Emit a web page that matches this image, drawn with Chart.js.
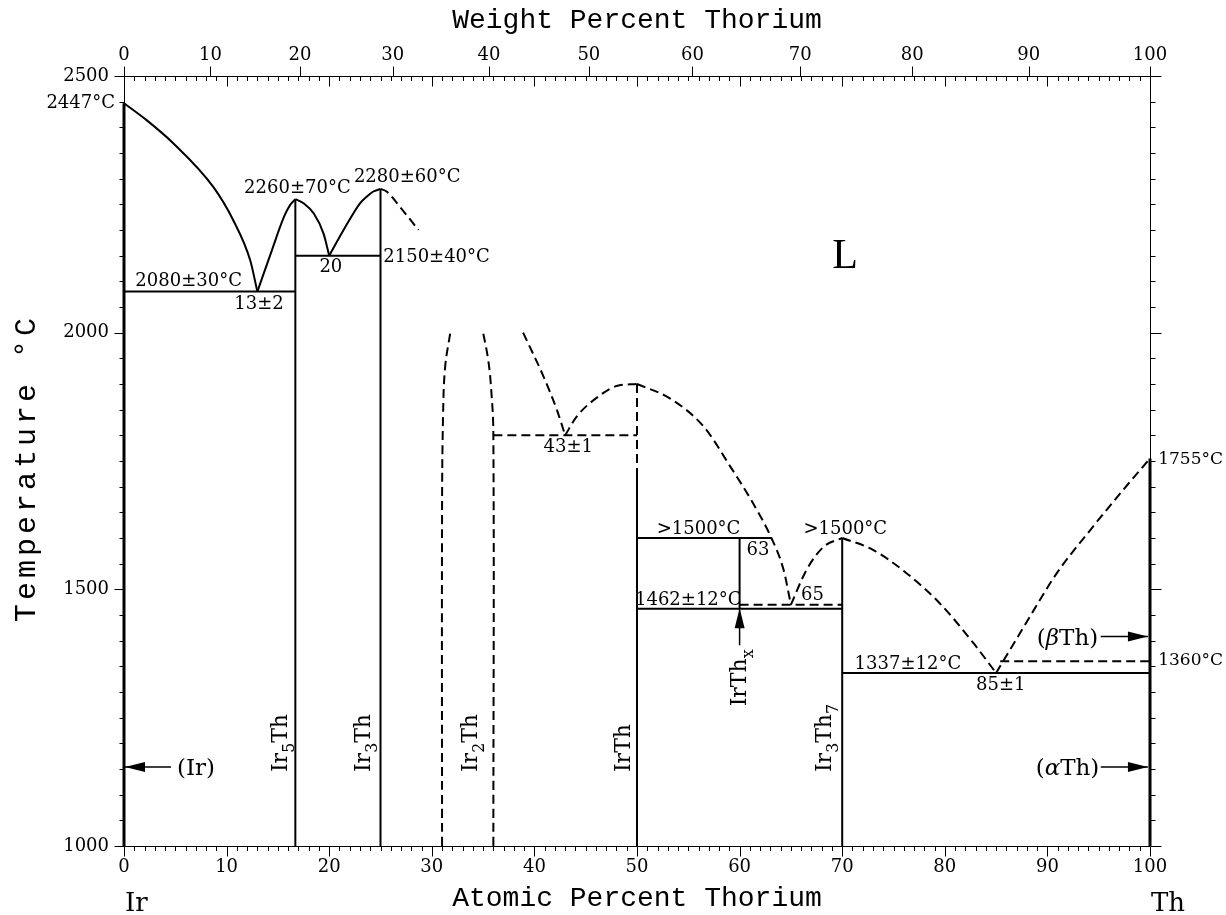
<!DOCTYPE html>
<html>
<head>
<meta charset="utf-8">
<script src="https://cdn.jsdelivr.net/npm/chart.js@4.4.1/dist/chart.umd.min.js"></script>
<style>
html,body{margin:0;padding:0;background:#fff}
canvas{display:block}
</style>
</head>
<body>
<canvas id="phase" width="1226" height="915"></canvas>
<script>
// tick labels
const atomicTicks = [0,10,20,30,40,50,60,70,80,90,100];
const weightTicks = [0,10,20,30,40,50,60,70,80,90,100];
const tempTicks = [1000,1500,2000,2500];

// phase boundaries, [at.% Th, deg C]
const irLiquidus  = [[0,2447],[2.2,2414],[4.8,2369],[8.7,2284],[10.65,2219],[12.3,2141],[13,2080]];
const ir5ThLeft   = [[13,2080],[14.3,2154],[15.6,2226],[16.2,2249],[16.7,2260]];
const ir5ThRight  = [[16.7,2260],[17.5,2252],[18.5,2232],[19.45,2193],[20,2150]];
const ir3ThLeft   = [[20,2150],[21.4,2200],[23,2252],[23.65,2265],[24.3,2275],[25,2280]];
const ir3ThRight  = [[25,2280],[25.6,2275],[26.9,2245],[28.7,2200]];
const ir2ThLeft   = [[31,1000],[31,1650],[31.1,1840],[31.3,1933],[31.8,2000]];
const ir2ThRight  = [[36,1000],[36,1800],[35.75,1900],[35.45,1953],[35,2000]];
const liq43Left   = [[38.9,2000],[40.9,1914],[42.2,1849],[43,1800]];
const irThLeft    = [[43,1800],[44.1,1836],[46.4,1878],[48,1896],[50,1900]];
const irThRight   = [[50,1900],[53.2,1872],[56.5,1817],[59.1,1739],[61.3,1668],[63.1,1600],[64.3,1537],[65,1470]];
const ir3Th7Left  = [[65,1470],[66.5,1537],[68.2,1583],[70,1600]];
const ir3Th7Right = [[70,1600],[73,1577],[76.3,1531],[79.5,1473],[82.8,1395],[85,1337]];
const thLiquidus  = [[85,1337],[87.7,1427],[90.9,1531],[94.2,1616],[97.4,1694],[100,1755]];

// invariant lines
const eut2080 = [[0,2080],[16.7,2080]];
const eut2150 = [[16.7,2150],[25,2150]];
const eut1800 = [[36,1800],[50,1800]];
const per1600 = [[50,1600],[63.1,1600]];
const per1462 = [[50,1462],[70,1462]];
const eut1470 = [[60,1470],[70,1470]];
const eut1337 = [[70,1337],[100,1337]];
const tr1360  = [[85.4,1360],[100,1360]];

// compound / element lines
const irEdge    = [[0,1000],[0,2447]];
const thEdge    = [[100,1000],[100,1755]];
const ir5ThLine = [[16.7,1000],[16.7,2260]];
const ir3ThLine = [[25,1000],[25,2280]];
const irThSolid = [[50,1000],[50,1719]];
const irThDash  = [[50,1719],[50,1900]];
const irThxLine = [[60,1462],[60,1600]];
const ir3Th7Line= [[70,1000],[70,1600]];

const IR_MASS = 192.22, TH_MASS = 232.04;
const wtToAt = w => { const a = w / TH_MASS, b = (100 - w) / IR_MASS; return 100 * a / (a + b); };

function seg(pts, extra) {
  return Object.assign({
    data: pts.map(p => ({x: p[0], y: p[1]})),
    showLine: true, pointRadius: 0, borderColor: '#000', backgroundColor: '#000',
    borderWidth: 2, tension: 0, clip: 8
  }, extra || {});
}
const smooth = {tension: 0.4, cubicInterpolationMode: 'monotone'};
const dashed = {borderDash: [9, 5]};
const dashSmooth = {tension: 0.4, cubicInterpolationMode: 'monotone', borderDash: [9, 5]};
const dashBend = {tension: 0.4, borderDash: [9, 5]};

const datasets = [
  seg(irLiquidus, smooth), seg(ir5ThLeft, smooth), seg(ir5ThRight, smooth), seg(ir3ThLeft, smooth),
  seg(ir3ThRight, dashSmooth), seg(ir2ThLeft, dashBend), seg(ir2ThRight, dashBend),
  seg(liq43Left, dashSmooth), seg(irThLeft, dashSmooth), seg(irThRight, dashSmooth),
  seg(ir3Th7Left, dashSmooth), seg(ir3Th7Right, dashSmooth), seg(thLiquidus, dashSmooth),
  seg(eut2080), seg(eut2150), seg(eut1800, dashed), seg(per1600), seg(per1462),
  seg(eut1470, dashed), seg(eut1337), seg(tr1360, dashed),
  seg(irEdge, {borderWidth: 3}), seg(thEdge, {borderWidth: 3}),
  seg(ir5ThLine), seg(ir3ThLine), seg(irThSolid), seg(irThDash, dashed),
  seg(irThxLine), seg(ir3Th7Line)
];

// text on the diagram (x in at.%, y in deg C at text centre)
const notes = [
  {t:'2447°C', x:-0.88, y:2450, align:'right'},
  {t:'2260±70°C', x:16.9, y:2284},
  {t:'2280±60°C', x:27.6, y:2306},
  {t:'20', x:20.16, y:2130},
  {t:'2150±40°C', x:25.27, y:2151, align:'left'},
  {t:'2080±30°C', x:6.3, y:2103},
  {t:'13±2', x:13.16, y:2058},
  {t:'43±1', x:43.3, y:1780},
  {t:'>1500°C', x:56.0, y:1620},
  {t:'63', x:61.8, y:1580},
  {t:'>1500°C', x:70.3, y:1620},
  {t:'65', x:67.1, y:1491},
  {t:'1462±12°C', x:55.0, y:1483},
  {t:'1337±12°C', x:76.4, y:1357},
  {t:'85±1', x:85.46, y:1316},
  {t:'1755°C', x:100.8, y:1756, align:'left', size:17},
  {t:'1360°C', x:100.8, y:1364, align:'left', size:17},
  {t:'(~βTh)', x:91.96, y:1408, size:23},
  {t:'(~αTh)', x:91.96, y:1154, size:23},
  {t:'(Ir)', x:7.02, y:1154, size:23}
];
// rotated compound names (x = baseline, y = lower end)
const phaseNames = [
  {t:'Ir_5Th', x:15.86, y:1144},
  {t:'Ir_3Th', x:23.98, y:1144},
  {t:'Ir_2Th', x:34.38, y:1144},
  {t:'IrTh', x:49.3, y:1144},
  {t:'IrTh_x', x:60.6, y:1272},
  {t:'Ir_3Th_7', x:68.9, y:1144}
];
const arrows = [
  {from:[4.58,1154], to:[0.1,1154]},
  {from:[95.2,1408], to:[99.8,1408]},
  {from:[95.2,1154], to:[99.8,1154]},
  {from:[60,1391], to:[60,1463]}
];

const SERIF = '"DejaVu Serif", serif';
const MONO = '"Liberation Mono", monospace';
function parse(s) {
  const out = []; let buf = '';
  for (let i = 0; i < s.length; i++) {
    const c = s[i];
    if (c === '_' || c === '~') {
      if (buf) { out.push({t: buf}); buf = ''; }
      out.push({t: s[i + 1], sub: c === '_', it: c === '~'}); i++;
    } else buf += c;
  }
  if (buf) out.push({t: buf});
  return out;
}
function partFont(p, size) {
  return (p.it ? 'italic ' : '') + (p.sub ? size * 0.72 : size) + 'px ' + SERIF;
}
function drawRich(ctx, str, size, x, y, align, rot) {
  const parts = parse(str);
  ctx.save();
  ctx.translate(x, y);
  if (rot) ctx.rotate(rot);
  let w = 0;
  parts.forEach(p => { ctx.font = partFont(p, size); w += ctx.measureText(p.t).width; });
  let cx = align === 'right' ? -w : align === 'left' ? 0 : -w / 2;
  ctx.textAlign = 'left';
  ctx.textBaseline = 'alphabetic';
  ctx.fillStyle = '#000';
  parts.forEach(p => {
    ctx.font = partFont(p, size);
    ctx.fillText(p.t, cx, p.sub ? size * 0.32 : 0);
    cx += ctx.measureText(p.t).width;
  });
  ctx.restore();
}

const annotate = {
  id: 'annotate',
  afterDraw(chart) {
    const {ctx, chartArea: a, scales: {x, y}} = chart;
    // frame and tick marks
    ctx.save();
    ctx.strokeStyle = '#000';
    ctx.lineWidth = 1;
    ctx.beginPath();
    const L = a.left + 0.5, R = a.right + 0.5, T = a.top + 0.5, B = a.bottom + 0.5;
    ctx.moveTo(L, T); ctx.lineTo(R, T); ctx.lineTo(R, B); ctx.lineTo(L, B); ctx.closePath();
    for (let v = 0; v <= 100; v++) {
      const px = Math.round(x.getPixelForValue(v)) + 0.5, big = v % 10 === 0;
      ctx.moveTo(px, B); ctx.lineTo(px, B + (big ? 10 : 4.5));
      ctx.moveTo(px, T); ctx.lineTo(px, T + (big ? 10 : 4.5));
    }
    weightTicks.forEach(w => {
      const px = Math.round(x.getPixelForValue(wtToAt(w))) + 0.5;
      ctx.moveTo(px, T); ctx.lineTo(px, T - 10);
    });
    for (let t = 1000; t <= 2500; t += 50) {
      const py = Math.round(y.getPixelForValue(t)) + 0.5, big = t % 500 === 0;
      ctx.moveTo(L, py); ctx.lineTo(L - (big ? 10 : 5), py);
      ctx.moveTo(R, py); ctx.lineTo(R + (big ? 11 : 5), py);
    }
    ctx.stroke();

    // arrows
    ctx.fillStyle = '#000';
    ctx.lineWidth = 1.5;
    arrows.forEach(ar => {
      const x0 = x.getPixelForValue(ar.from[0]), y0 = y.getPixelForValue(ar.from[1]);
      const x1 = x.getPixelForValue(ar.to[0]), y1 = y.getPixelForValue(ar.to[1]);
      const ang = Math.atan2(y1 - y0, x1 - x0);
      ctx.beginPath(); ctx.moveTo(x0, y0); ctx.lineTo(x1, y1); ctx.stroke();
      ctx.save(); ctx.translate(x1, y1); ctx.rotate(ang);
      ctx.beginPath(); ctx.moveTo(0, 0); ctx.lineTo(-20, -5); ctx.lineTo(-20, 5); ctx.closePath(); ctx.fill();
      ctx.restore();
    });

    // vertical axis title
    ctx.translate(27, 468);
    ctx.rotate(-Math.PI / 2);
    ctx.font = '30px ' + MONO;
    if ('letterSpacing' in ctx) ctx.letterSpacing = '4px';
    ctx.textAlign = 'center';
    ctx.textBaseline = 'middle';
    ctx.fillText('Temperature °C', 0, 0);
    ctx.restore();

    notes.forEach(n => {
      const size = n.size || 18;
      drawRich(ctx, n.t, size, x.getPixelForValue(n.x), y.getPixelForValue(n.y) + size * 0.36, n.align || 'center', 0);
    });
    phaseNames.forEach(n => {
      drawRich(ctx, n.t, 22, x.getPixelForValue(n.x), y.getPixelForValue(n.y), 'left', -Math.PI / 2);
    });
    ctx.save();
    ctx.fillStyle = '#000';
    ctx.font = '42px "Liberation Serif", serif';
    ctx.textAlign = 'center';
    ctx.textBaseline = 'alphabetic';
    ctx.fillText('L', x.getPixelForValue(70.27), y.getPixelForValue(2153) + 14);
    ctx.restore();
    drawRich(ctx, 'Ir', 26, a.left + 1, 911, 'left', 0);
    drawRich(ctx, 'Th', 26, a.right + 1, 911, 'left', 0);
  }
};

const tickFont = {family: SERIF, size: 18, lineHeight: 1};
const titleFont = {family: MONO, size: 28, lineHeight: 1};

new Chart(document.getElementById('phase'), {
  type: 'scatter',
  data: {datasets},
  options: {
    responsive: false,
    animation: false,
    events: [],
    layout: {padding: {right: 76}},
    plugins: {legend: {display: false}, tooltip: {enabled: false}},
    scales: {
      x: {
        type: 'linear', position: 'bottom', min: 0, max: 100,
        afterBuildTicks: s => { s.ticks = atomicTicks.map(v => ({value: v})); },
        afterFit: s => { s.height = 69; },
        grid: {display: false, drawTicks: false}, border: {display: false},
        ticks: {font: tickFont, color: '#000', padding: 12, maxRotation: 0, autoSkip: false},
        title: {display: true, text: 'Atomic Percent Thorium', font: titleFont, color: '#000', padding: {top: 0, bottom: 2}}
      },
      x2: {
        type: 'linear', position: 'top', min: 0, max: 100,
        afterBuildTicks: s => { s.ticks = weightTicks.map(w => ({value: wtToAt(w)})); },
        afterFit: s => { s.height = 76; },
        grid: {display: false, drawTicks: false}, border: {display: false},
        ticks: {font: tickFont, color: '#000', padding: 12, maxRotation: 0, autoSkip: false,
                callback: (v, i) => String(weightTicks[i])},
        title: {display: true, text: 'Weight Percent Thorium', font: titleFont, color: '#000', padding: {top: 7, bottom: 0}}
      },
      y: {
        type: 'linear', position: 'left', min: 1000, max: 2500,
        afterBuildTicks: s => { s.ticks = tempTicks.map(v => ({value: v})); },
        afterFit: s => { s.width = 124; },
        grid: {display: false, drawTicks: false}, border: {display: false},
        ticks: {font: tickFont, color: '#000', padding: 15, callback: v => String(v)},
        title: {display: false}
      }
    }
  },
  plugins: [annotate]
});
</script>
</body>
</html>
